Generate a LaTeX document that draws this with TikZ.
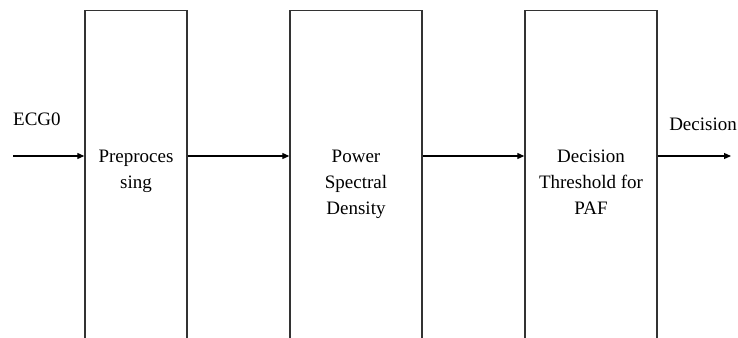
\documentclass[tikz,border=0pt]{standalone}
\usepackage{fontspec}
\setmainfont{Liberation Serif}
\usetikzlibrary{arrows.meta}
\begin{document}
\begin{tikzpicture}[x=1pt,y=1pt,
  blockbox/.style={draw=black!80,line width=1.4pt,minimum height=340pt,inner sep=0pt,anchor=north},
  lbl/.style={font=\fontsize{19}{26}\selectfont,align=center,inner sep=0pt,anchor=base},
  inlbl/.style={lbl,anchor=north},
  conn/.style={draw=black,line width=1.2pt,-{Triangle[length=7pt,width=6pt]}}]
\clip (0,0) rectangle (738,-337);
\fill[white] (0,0) rectangle (738,-337);
\node[blockbox,minimum width=102pt] (b1) at (136,-10) {};
\node[blockbox,minimum width=132pt] (b2) at (356,-10) {};
\node[blockbox,minimum width=132pt] (b3) at (591,-10) {};
\node[inlbl] (t1) at (136,-150) {Preproces\\sing};
\node[inlbl] (t2) at (356,-150) {Power\\Spectral\\Density};
\node[inlbl] (t3) at (591,-150) {Decision\\Threshold for\\PAF};
\coordinate (in) at (13,-156);
\coordinate (out) at (731,-156);
\node[lbl,anchor=base west] (ecg) at (13,-125) {ECG0};
\node[lbl,anchor=base east] (dec) at (737,-130) {Decision};
\draw[conn] (in) -- (in -| b1.west);
\draw[conn] (in -| b1.east) -- (in -| b2.west);
\draw[conn] (in -| b2.east) -- (in -| b3.west);
\draw[conn] (in -| b3.east) -- (out);
\end{tikzpicture}
\end{document}
